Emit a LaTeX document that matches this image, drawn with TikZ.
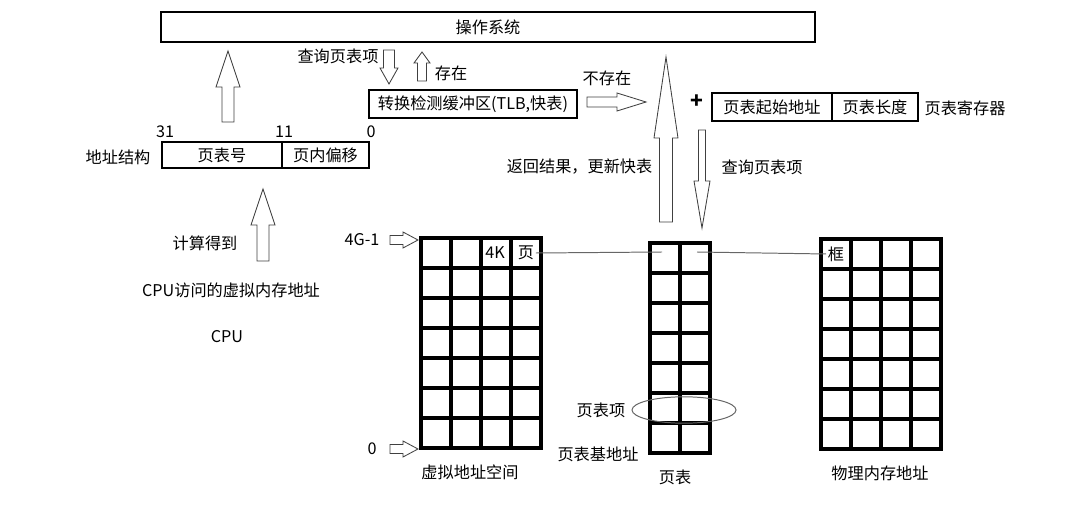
\documentclass[tikz,border=0pt]{standalone}
\usepackage{fontspec}
\setmainfont{Noto Sans CJK SC}
\usetikzlibrary{positioning}
% hollow block arrows: x, tail, base of head, tip, half shaft, half head
\newcommand{\vblock}[6]{%
  \draw[hollow] (#1-#5,#2) -- (#1-#5,#3) -- (#1-#6,#3) -- (#1,#4) -- (#1+#6,#3) -- (#1+#5,#3) -- (#1+#5,#2) -- cycle;}
\newcommand{\hblock}[6]{%
  \draw[hollow] (#2,#1-#5) -- (#3,#1-#5) -- (#3,#1-#6) -- (#4,#1) -- (#3,#1+#6) -- (#3,#1+#5) -- (#2,#1+#5) -- cycle;}
% grid of 30px cells: x, y, cols, rows
\newcommand{\cellgrid}[4]{%
  \draw[cell] (#1,#2) rectangle ++(#3*30,#4*30);
  \foreach \i in {1,...,#3} \draw[cell] (#1+\i*30,#2) -- ++(0,#4*30);
  \foreach \j in {1,...,#4} \draw[cell] (#1,#2+\j*30) -- ++(#3*30,0);}

\begin{document}
\begin{tikzpicture}[
    x=0.025cm, y=-0.025cm,
    font=\fontsize{11.5}{13}\selectfont,
    box/.style={draw, line width=2pt, outer sep=0pt, inner sep=1pt},
    cell/.style={line width=2.2pt},
    hollow/.style={draw=black!75, fill=white, line width=0.6pt, line join=miter},
    lbl/.style={inner sep=1pt},
    link/.style={draw=black!60, line width=0.7pt}
  ]
    \useasboundingbox (0,0) rectangle (1080,525);

    % top row
    \node[box, minimum width=16.35cm, minimum height=0.75cm] (os) at (488,27) {操作系统};
    \node[box, minimum width=5.2cm, minimum height=0.7cm] (tlb) at (473,104) {转换检测缓冲区(TLB,快表)};
    \node[box, minimum width=3cm, minimum height=0.7cm] (start) at (772,107) {页表起始地址};
    \node[box, minimum width=2.15cm, minimum height=0.7cm, right=0pt of start] (len) {页表长度};
    \node[lbl] (reg) at (965,108) {页表寄存器};
    \node[lbl, font=\fontsize{15}{16}\selectfont\bfseries] (plus) at (697,102) {+};

    % address structure
    \node[box, minimum width=3cm, minimum height=0.65cm] (pno) at (222,155) {页表号};
    \node[box, minimum width=2.175cm, minimum height=0.65cm, right=0pt of pno] (off) {页内偏移};
    \node[lbl] (addr) at (118,157) {地址结构};
    \node[lbl] (b31) at (165,132) {31};
    \node[lbl] (b11) at (284,132) {11};
    \node[lbl] (b0) at (371,132) {0};

    % labels of the flow
    \node[lbl] (ask1) at (338,56) {查询页表项};
    \node[lbl] (hit) at (451,73) {存在};
    \node[lbl] (miss) at (607,78) {不存在};
    \node[lbl, anchor=east] (back) at (654,167) {返回结果，更新快表};
    \node[lbl, anchor=west] (ask2) at (720,167) {查询页表项};
    \node[lbl] (calc) at (205,243) {计算得到};
    \node[lbl] (vaddr) at (231,290) {CPU访问的虚拟内存地址};
    \node[lbl] (cpu) at (227,337) {CPU};

    % block arrows
    \vblock{228}{122}{87}{51}{6}{12}
    \vblock{263}{261}{225}{189}{6}{12}
    \vblock{389}{50}{68}{84}{5.5}{9}
    \vblock{422}{81}{63}{52}{4.5}{8}
    \hblock{102}{587}{617}{646}{5}{9}
    \vblock{666}{222}{138}{57}{6.5}{12}
    \vblock{702}{130}{181}{228}{3.5}{8}
    \hblock{240}{390}{403}{418}{4.5}{8}
    \hblock{449}{390}{403}{418}{4.5}{8}

    % virtual address space
    \cellgrid{421}{238}{4}{7}
    \node[lbl] (top) at (362,240) {4G-1};
    \node[lbl] (zero) at (372,449) {0};
    \node[lbl] (k4) at (495,253) {4K};
    \node[lbl] (vpage) at (526,253) {页};
    \node[lbl] (vspace) at (470,472) {虚拟地址空间};

    % page table
    \cellgrid{650}{243}{2}{7}
    \coordinate (ptl) at (662,252);
    \coordinate (ptr) at (697,252);
    \draw[draw=black!60, line width=0.7pt] (684,410) ellipse [x radius=1.3cm, y radius=0.33cm];
    \node[lbl] (pte) at (601,410) {页表项};
    \node[lbl] (ptbase) at (598,454) {页表基地址};
    \node[lbl] (ptname) at (675,477) {页表};

    % physical memory
    \cellgrid{821}{239}{4}{7}
    \node[lbl] (frame) at (836,254) {框};
    \node[lbl] (paddr) at (880,473) {物理内存地址};

    \draw[link] (vpage.east) -- (ptl);
    \draw[link] (ptr) -- (frame.west);
  \end{tikzpicture}
\end{document}
